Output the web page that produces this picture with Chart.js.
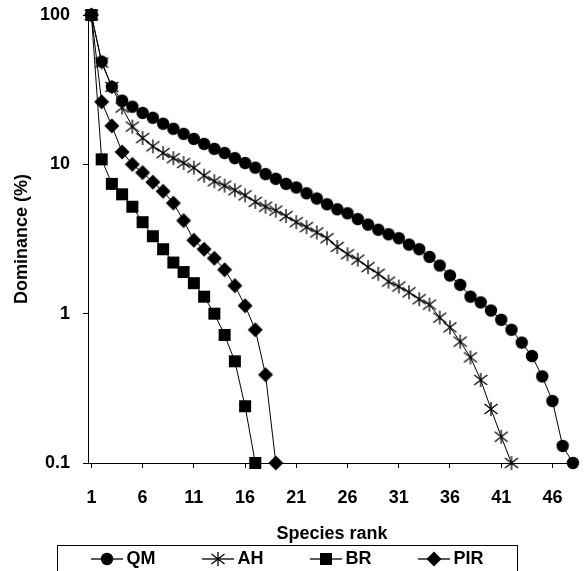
<!DOCTYPE html>
<html>
<head>
<meta charset="utf-8">
<script src="https://cdn.jsdelivr.net/npm/chart.js@4.4.1/dist/chart.umd.min.js"></script>
<style>
  body { margin: 0; background: #fff; }
  #wrap { position: relative; width: 585px; height: 571px; }
  #legend {
    position: absolute; left: 57px; top: 545px; width: 461px; height: 26px;
    border: 1px solid #000; border-bottom: none; display: flex; align-items: center; justify-content: space-around;
    font: bold 18px "Liberation Sans", Arial, sans-serif; color: #000; padding: 0 10px; box-sizing: border-box;
  }
  #legend span.item { display: flex; align-items: center; }
  #legend canvas { margin-right: 3px; }
</style>
</head>
<body>
<div id="wrap">
  <canvas id="rankChart" width="585" height="571"></canvas>
  <div id="legend"></div>
</div>
<script>
// species rank (x) and dominance (%) per site
const ranks = [1, 2, 3, 4, 5, 6, 7, 8, 9, 10, 11, 12, 13, 14, 15, 16, 17, 18, 19, 20, 21, 22, 23, 24,
  25, 26, 27, 28, 29, 30, 31, 32, 33, 34, 35, 36, 37, 38, 39, 40, 41, 42, 43, 44, 45, 46, 47, 48];
const qm = [100, 48.7, 33, 26.7, 24.3, 22.1, 20.5, 18.7, 17.3, 16.0,
  14.8, 13.7, 12.7, 11.9, 11.0, 10.2, 9.5, 8.6, 8.0, 7.4,
  7.0, 6.4, 5.9, 5.4, 5.0, 4.7, 4.3, 3.95, 3.65, 3.4,
  3.2, 2.9, 2.7, 2.4, 2.1, 1.8, 1.56, 1.3, 1.19, 1.05,
  0.91, 0.78, 0.64, 0.52, 0.38, 0.26, 0.13, 0.1];
const ah = [100, 48, 33, 24, 17.9, 15.0, 13.2, 11.9, 11.0, 10.2,
  9.5, 8.4, 7.7, 7.2, 6.7, 6.2, 5.6, 5.2, 4.9, 4.5,
  4.1, 3.8, 3.5, 3.2, 2.8, 2.5, 2.3, 2.05, 1.85, 1.64,
  1.52, 1.39, 1.25, 1.15, 0.94, 0.81, 0.65, 0.51, 0.36, 0.23,
  0.15, 0.1];
const br = [100, 10.8, 7.4, 6.3, 5.2, 4.1, 3.3, 2.7, 2.2, 1.9, 1.6, 1.3, 1.0, 0.72, 0.48, 0.24, 0.1];
const pir = [100, 26.2, 18.1, 12.1, 10.0, 8.8, 7.6, 6.6, 5.5, 4.2, 3.1, 2.7, 2.35, 1.97, 1.54, 1.13, 0.78, 0.39, 0.1];
const seriesNames = ['QM', 'AH', 'BR', 'PIR'];
const xTicks = [1, 6, 11, 16, 21, 26, 31, 36, 41, 46];
const yTicks = [0.1, 1, 10, 100];

const FONT = '"Liberation Sans", Arial, sans-serif';

// marker glyphs, drawn on small canvases so the legend can reuse them with a line
function drawMarker(ctx, kind, cx, cy) {
  ctx.fillStyle = '#000';
  ctx.strokeStyle = '#000';
  if (kind === 'circle') {
    ctx.beginPath(); ctx.arc(cx, cy, 6.2, 0, Math.PI * 2); ctx.fill();
  } else if (kind === 'square') {
    ctx.fillRect(cx - 6, cy - 6, 12, 12);
  } else if (kind === 'diamond') {
    ctx.beginPath();
    ctx.moveTo(cx, cy - 7.5); ctx.lineTo(cx + 7.5, cy); ctx.lineTo(cx, cy + 7.5); ctx.lineTo(cx - 7.5, cy);
    ctx.closePath(); ctx.fill();
  } else if (kind === 'star') {
    ctx.lineWidth = 1.3;
    ctx.beginPath();
    ctx.moveTo(cx, cy - 7); ctx.lineTo(cx, cy + 7);
    ctx.moveTo(cx - 6.5, cy - 5); ctx.lineTo(cx + 6.5, cy + 5);
    ctx.moveTo(cx - 6.5, cy + 5); ctx.lineTo(cx + 6.5, cy - 5);
    ctx.stroke();
  }
}
function markerCanvas(kind, withLine) {
  const c = document.createElement('canvas');
  c.width = withLine ? 32 : 18;
  c.height = 18;
  const ctx = c.getContext('2d');
  if (withLine) {
    ctx.strokeStyle = '#000'; ctx.lineWidth = 1.3;
    ctx.beginPath(); ctx.moveTo(0, 9); ctx.lineTo(32, 9); ctx.stroke();
  }
  drawMarker(ctx, kind, c.width / 2, 9);
  return c;
}

const markers = ['circle', 'star', 'square', 'diamond'];
const values = [qm, ah, br, pir];

const datasets = values.map(function(vals, i) {
  return {
    label: seriesNames[i],
    data: vals.map(function(v, j) { return {x: ranks[j], y: v}; }),
    borderColor: '#000',
    borderWidth: 1,
    pointStyle: markerCanvas(markers[i], false),
    pointRadius: 6,
    clip: false
  };
});

const ctx = document.getElementById('rankChart').getContext('2d');
const rankChart = new Chart(ctx, {
  type: 'line',
  data: { datasets: datasets },
  options: {
    responsive: false,
    animation: false,
    layout: { padding: { top: 15, right: 9, bottom: 26, left: 0 } },
    plugins: { legend: { display: false }, tooltip: { enabled: false } },
    scales: {
      x: {
        type: 'linear',
        min: 0.67,
        max: 48.3,
        afterBuildTicks: function(axis) { axis.ticks = xTicks.map(function(v) { return {value: v}; }); },
        afterFit: function(axis) { axis.height = 82; },
        grid: { drawOnChartArea: false, color: '#000', tickLength: 5 },
        border: { color: '#000', width: 1 },
        ticks: { color: '#000', padding: 19, maxRotation: 0, font: { family: FONT, size: 18, weight: 'bold' } },
        title: { display: true, text: 'Species rank', color: '#000', padding: { top: 0, bottom: 0 },
          font: { family: FONT, size: 18, weight: 'bold' } }
      },
      y: {
        type: 'logarithmic',
        min: 0.1,
        max: 100,
        afterBuildTicks: function(axis) { axis.ticks = yTicks.map(function(v) { return {value: v}; }); },
        afterFit: function(axis) { axis.width = 88; axis.paddingTop = 0; axis.paddingBottom = 0; },
        grid: { drawOnChartArea: false, color: '#000', tickLength: 5 },
        border: { color: '#000', width: 1 },
        ticks: { color: '#000', padding: 13, callback: function(v) { return String(v); },
          font: { family: FONT, size: 18, weight: 'bold' } },
        title: { display: true, text: 'Dominance (%)', color: '#000', padding: { top: 11, bottom: 0 },
          font: { family: FONT, size: 18, weight: 'bold' } }
      }
    }
  }
});

// boxed legend with line-through markers
const legendEl = document.getElementById('legend');
seriesNames.forEach(function(name, i) {
  const item = document.createElement('span');
  item.className = 'item';
  item.appendChild(markerCanvas(markers[i], true));
  item.appendChild(document.createTextNode(name));
  legendEl.appendChild(item);
});
</script>
</body>
</html>
